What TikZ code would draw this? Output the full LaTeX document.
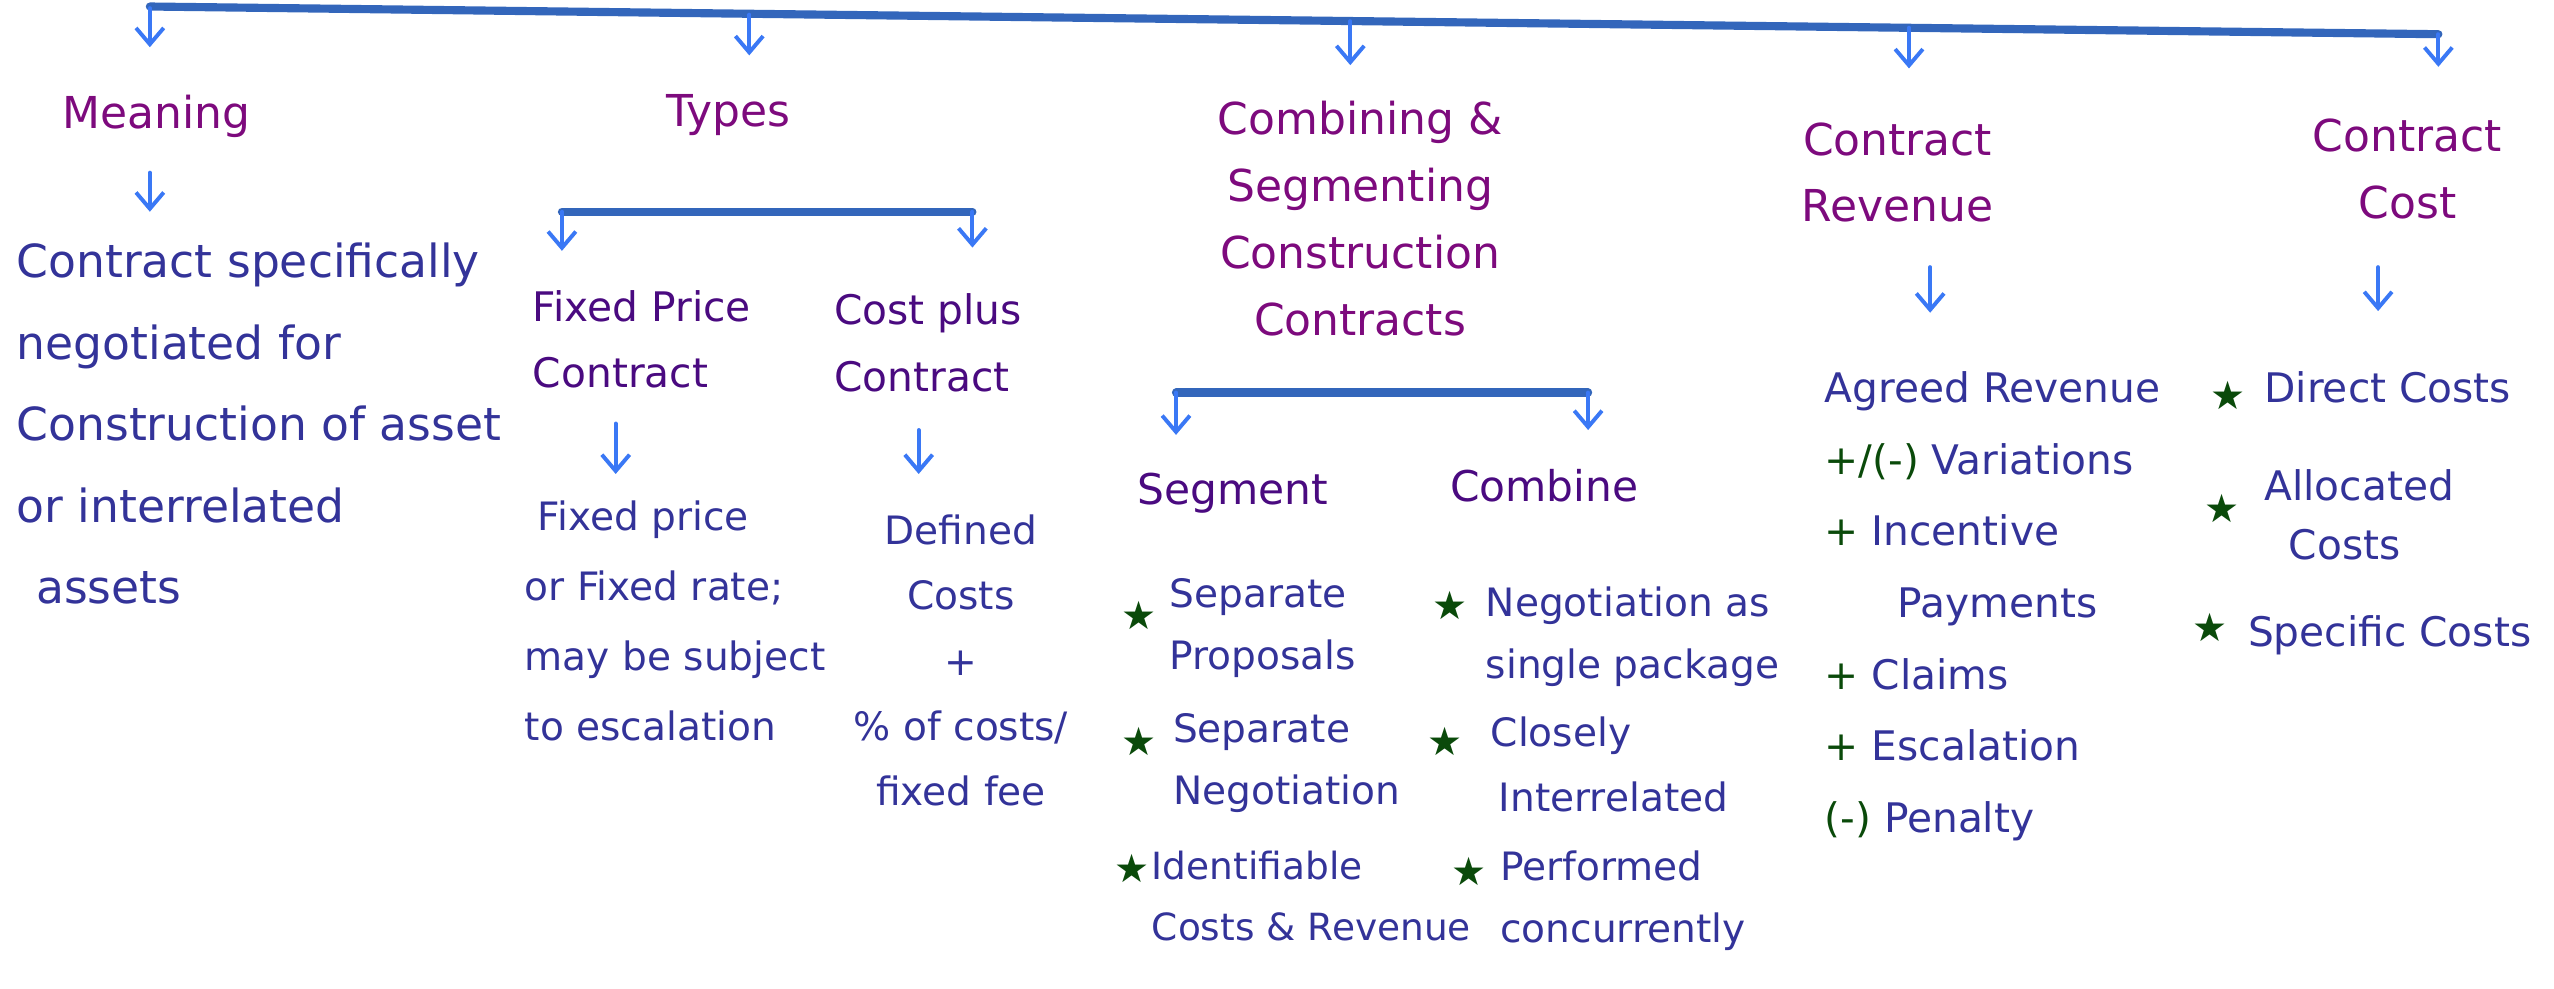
\documentclass[tikz,border=0pt]{standalone}
\usepackage{fontspec}
\setmainfont{DejaVu Sans}
\usetikzlibrary{arrows.meta}

\definecolor{barblue}{HTML}{3366BB}
\definecolor{arrowblue}{HTML}{3A78F5}
\definecolor{headpurple}{HTML}{7D0A7D}
\definecolor{subpurple}{HTML}{4A0A80}
\definecolor{inkblue}{HTML}{333399}
\definecolor{inkgreen}{HTML}{0A4A0A}

\newcommand{\greensign}[1]{\textcolor{inkgreen}{#1}}

\tikzset{
  bar/.style={barblue, line width=5pt, line cap=round},
  down/.style={arrowblue, line width=2.4pt, line cap=round,
    -{Straight Barb[length=10pt,width=17pt]}},
  head/.style={headpurple, inner sep=0pt, align=center, anchor=north,
    font=\fontsize{27}{41}\selectfont},
  subhead/.style={subpurple, inner sep=0pt, anchor=north west, align=left,
    font=\fontsize{25}{41}\selectfont},
  body/.style={inkblue, inner sep=0pt, anchor=north west, align=left},
  starmark/.style={inkgreen, inner sep=0pt, font=\fontsize{24}{24}\selectfont},
}

\begin{document}
\begin{tikzpicture}[x=1pt,y=-1pt]
\useasboundingbox (0,0) rectangle (1568,607);

% ---- top level headings
\node[head] (meaning) at (96,58) {Meaning};
\node[head] (types) at (447,58) {Types};
\node[head] (comb) at (835,62) {Combining \&\\Segmenting\\Construction\\Contracts};
\node[head] (revenue) at (1165,75) {Contract\\Revenue};
\node[head] (cost) at (1478,73) {Contract\\Cost};

% ---- main bar and its arrows
\coordinate (barL) at (92,4);
\coordinate (barR) at (1497,21);
\draw[bar] (barL) -- (barR);
\coordinate (t1) at (92,5);    \coordinate (h1) at (92,29);
\coordinate (t2) at (460,9);   \coordinate (h2) at (460,34);
\coordinate (t3) at (829,13);  \coordinate (h3) at (829,40);
\coordinate (t4) at (1172,17); \coordinate (h4) at (1172,42);
\coordinate (t5) at (1497,21); \coordinate (h5) at (1497,41);
\draw[down] (t1) -- (h1);
\draw[down] (t2) -- (h2);
\draw[down] (t3) -- (h3);
\draw[down] (t4) -- (h4);
\draw[down] (t5) -- (h5);

% ---- meaning
\coordinate (m1) at (92,106); \coordinate (m2) at (92,130);
\draw[down] (m1) -- (m2);
\node[body, font=\fontsize{28}{50}\selectfont] (meanbody) at (10,149)
  {Contract specifically\\negotiated for\\Construction of asset\\or interrelated\\\hspace*{12pt}assets};

% ---- types
\coordinate (tbL) at (345,130); \coordinate (tbR) at (597,130);
\coordinate (tbLh) at (345,154); \coordinate (tbRh) at (597,152);
\draw[bar] (tbL) -- (tbR);
\draw[down] (tbL) -- (tbLh);
\draw[down] (tbR) -- (tbRh);
\node[subhead] (fixedhd) at (327,178) {Fixed Price\\Contract};
\node[subhead] (costhd) at (512,180) {Cost plus\\Contract};
\coordinate (f1) at (378,260); \coordinate (f2) at (378,291);
\coordinate (c1a) at (564,264); \coordinate (c1b) at (564,291);
\draw[down] (f1) -- (f2);
\draw[down] (c1a) -- (c1b);
\node[body, font=\fontsize{24}{43}\selectfont] (fixedbody) at (322,307)
  {\hspace*{8pt}Fixed price\\or Fixed rate;\\may be subject\\to escalation};
\node[body, align=center, anchor=north, font=\fontsize{24}{40}\selectfont] (costbody) at (590,316)
  {Defined\\Costs\\+\\\% of costs/\\fixed fee};

% ---- combining & segmenting
\coordinate (cbL) at (722,241); \coordinate (cbR) at (975,241);
\coordinate (cbLh) at (722,267); \coordinate (cbRh) at (975,264);
\draw[bar] (cbL) -- (cbR);
\draw[down] (cbL) -- (cbLh);
\draw[down] (cbR) -- (cbRh);
\node[subhead, font=\fontsize{26}{26}\selectfont] (seg) at (698,290) {Segment};
\node[subhead, font=\fontsize{26}{26}\selectfont] (cmb) at (890,288) {Combine};

\node[starmark] (st1) at (699,378) {★};
\node[starmark] (st2) at (699,455) {★};
\node[starmark] (st3) at (695,533) {★};
\node[body, font=\fontsize{24}{38}\selectfont] (s1) at (718,355) {Separate\\Proposals};
\node[body, font=\fontsize{24}{38}\selectfont] (s2) at (720,438) {Separate\\Negotiation};
\node[body, font=\fontsize{23}{38}\selectfont] (s3) at (707,522) {Identifiable\\Costs \& Revenue};

\node[starmark] (st4) at (890,372) {★};
\node[starmark] (st5) at (887,455) {★};
\node[starmark] (st6) at (902,535) {★};
\node[body, font=\fontsize{24}{38}\selectfont] (cb1) at (912,360) {Negotiation as\\single package};
\node[body, font=\fontsize{24}{40}\selectfont] (cb2) at (915,440) {Closely\\\hspace*{5pt}Interrelated};
\node[body, font=\fontsize{24}{38}\selectfont] (cb3) at (921,522) {Performed\\concurrently};

% ---- contract revenue
\coordinate (r1) at (1185,164); \coordinate (r2) at (1185,192);
\draw[down] (r1) -- (r2);
\node[body, font=\fontsize{25}{44}\selectfont] (revbody) at (1120,228)
  {Agreed Revenue\\\greensign{+/(-)} Variations\\\greensign{+} Incentive\\\hspace*{45pt}Payments\\\greensign{+} Claims\\\greensign{+} Escalation\\\greensign{(-)} Penalty};

% ---- contract cost
\coordinate (k1) at (1460,164); \coordinate (k2) at (1460,191);
\draw[down] (k1) -- (k2);
\node[starmark] (st7) at (1368,243) {★};
\node[starmark] (st8) at (1364,312) {★};
\node[starmark] (st9) at (1357,385) {★};
\node[body, font=\fontsize{25}{25}\selectfont] (direct) at (1390,228) {Direct Costs};
\node[body, font=\fontsize{25}{36}\selectfont] (alloc) at (1390,288) {Allocated\\\hspace*{15pt}Costs};
\node[body, font=\fontsize{25}{25}\selectfont] (specific) at (1380,378) {Specific Costs};
\end{tikzpicture}
\end{document}
